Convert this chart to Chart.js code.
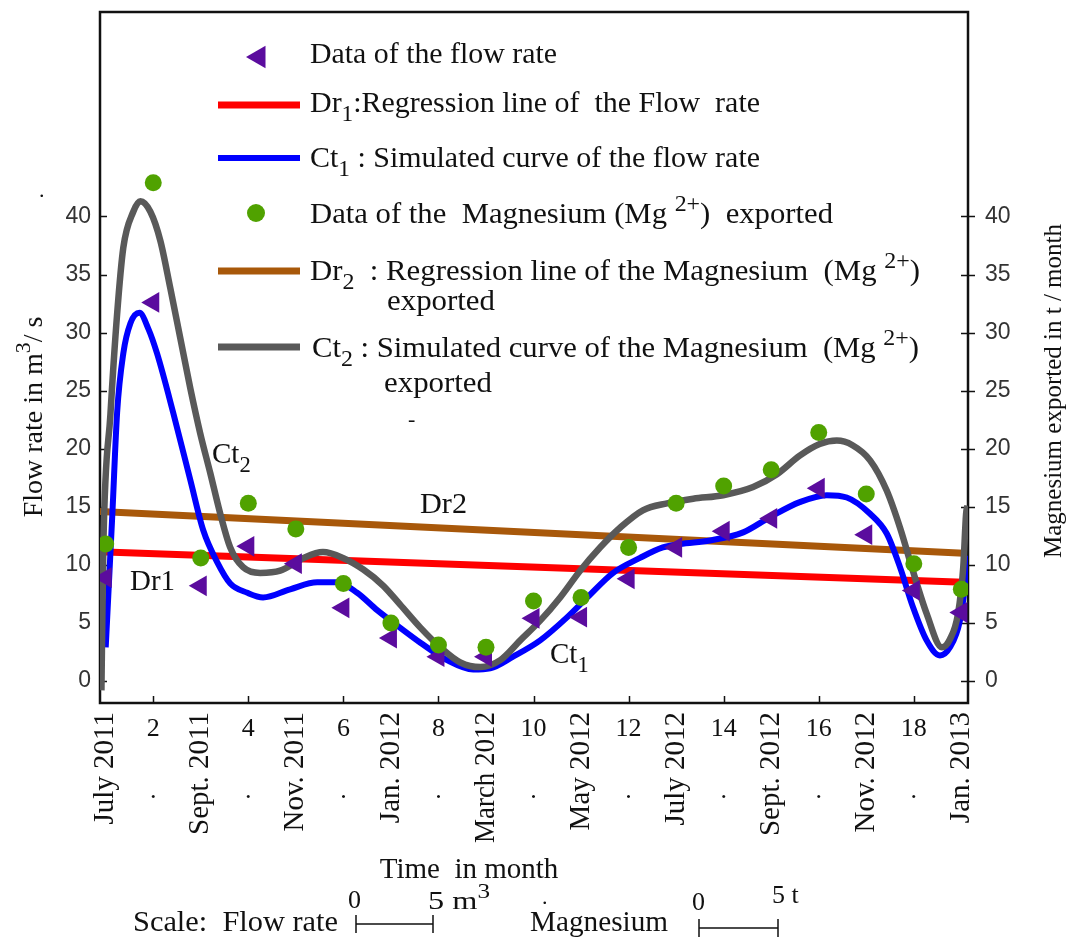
<!DOCTYPE html>
<html>
<head>
<meta charset="utf-8">
<script src="https://cdn.jsdelivr.net/npm/chart.js@4.4.1/dist/chart.umd.min.js"></script>
<style>
  html, body { margin: 0; padding: 0; background: #fff; }
  #wrap { width: 1066px; height: 937px; position: relative; }
</style>
</head>
<body>
<div id="wrap"><canvas id="chart" width="1066" height="937"></canvas></div>
<script>
// Months 1..19 (July 2011 .. Jan. 2013)
const months = [1, 2, 3, 4, 5, 6, 7, 8, 9, 10, 11, 12, 13, 14, 15, 16, 17, 18, 19];
const monthLabels = ['July 2011', '2', 'Sept. 2011', '4', 'Nov. 2011', '6', 'Jan. 2012', '8', 'March 2012', '10',
    'May 2012', '12', 'July 2012', '14', 'Sept. 2012', '16', 'Nov. 2012', '18', 'Jan. 2013'];
const yTicks = [0, 5, 10, 15, 20, 25, 30, 35, 40];

// Measured data
const flowRate = [8.9, 32.6, 8.2, 11.6, 10.1, 6.3, 3.7, 2.1, 2.1, 5.4, 5.5, 8.8, 11.5, 12.9, 14.0, 16.6, 12.6, 7.8, 5.9];
const magnesium = [11.8, 42.9, 10.6, 15.3, 13.1, 8.4, 5.0, 3.1, 2.9, 6.9, 7.2, 11.5, 15.3, 16.8, 18.2, 21.4, 16.1, 10.1, 7.9];

// Regression lines (end points)
const dr1Time = [1.0, 19.05];
const dr1Flow = [11.1, 8.5];
const dr2Time = [0.88, 19.05];
const dr2Mg = [14.6, 11.0];

// Simulated curve Ct1 (flow rate)
const ct1Time = [1.0, 1.14, 1.24, 1.37, 1.52, 1.71, 1.9, 2.08, 2.42, 2.78, 3.05, 3.35, 3.62, 3.98, 4.31, 4.88, 5.45, 5.87,
    6.29, 6.71, 7.19, 7.62, 8.18, 8.73, 9.09, 9.57, 10.14, 10.71, 11.13, 11.67, 12.24, 12.72, 13.08, 13.71, 14.41, 14.97,
    15.60, 16.17, 16.59, 17.08, 17.43, 17.71, 17.98, 18.27, 18.55, 18.76, 18.97, 19.07, 19.12];
const ct1Flow = [2.9, 14.4, 23.1, 28.2, 30.8, 31.7, 30.3, 28.2, 23.1, 17.3, 13.0, 10.2, 8.4, 7.6, 7.2, 7.9, 8.5, 8.5,
    7.6, 6.1, 4.6, 3.3, 1.8, 1.0, 1.1, 2.1, 3.5, 5.5, 7.2, 9.3, 10.6, 11.5, 11.8, 12.1, 12.8, 14.1,
    15.4, 16.0, 15.8, 14.4, 12.7, 9.8, 6.4, 3.5, 2.2, 2.9, 5.2, 8.1, 10.8];

// Simulated curve Ct2 (magnesium)
const ct2Time = [0.91, 0.95, 1.10, 1.24, 1.37, 1.58, 1.73, 1.94, 2.15, 2.36, 2.57, 2.78, 2.99, 3.20, 3.41, 3.62, 3.89,
    4.25, 4.67, 5.16, 5.57, 5.99, 6.42, 6.84, 7.19, 7.62, 8.04, 8.46, 8.88, 9.30, 9.72, 10.14, 10.56, 10.98, 11.40, 11.82,
    12.30, 12.81, 13.36, 13.99, 14.62, 15.12, 15.60, 16.02, 16.38, 16.71, 17.08, 17.43, 17.71, 17.98, 18.27, 18.59, 18.76,
    18.93, 19.04, 19.10, 19.13];
const ct2Mg = [-0.8, 11.5, 23.0, 31.6, 37.3, 40.4, 41.3, 40.4, 37.9, 33.8, 29.5, 25.2, 21.3, 17.9, 14.4, 11.5, 9.8,
    9.3, 9.5, 10.6, 11.1, 10.6, 9.6, 8.2, 6.6, 4.6, 2.9, 1.6, 1.2, 1.8, 3.5, 5.2, 7.2, 9.5, 11.5, 13.2,
    14.7, 15.3, 15.7, 16.0, 16.7, 17.8, 19.4, 20.4, 20.7, 20.3, 19.0, 16.4, 13.2, 9.5, 5.8, 2.9, 3.6,
    5.8, 9.8, 14.4, 15.1];

const PURPLE = '#5b0c9e', GREEN = '#50a200', RED = '#ff0000', BLUE = '#0000ff', BROWN = '#a8580a', GRAY = '#595959';
const SERIF = '"Liberation Serif", "Times New Roman", serif';
const SANS = '"Liberation Sans", Arial, sans-serif';

function pairs(xs, ys) {
    return xs.map((x, i) => ({x: x, y: ys[i]}));
}

function splitRich(text) {
    return text.split(/(_\{[^}]*\}|\^\{[^}]*\})/).filter(s => s.length);
}

function textWidth(ctx, text, size) {
    let w = 0;
    splitRich(text).forEach(p => {
        const small = p.startsWith('_{') || p.startsWith('^{');
        const t = small ? p.slice(2, -1) : p;
        ctx.font = (small ? size * 0.78 : size) + 'px ' + SERIF;
        w += ctx.measureText(t).width;
    });
    return w;
}

// Draw text with _{sub} and ^{sup} parts; optional width to stretch to
function richText(ctx, text, x, y, size, width) {
    ctx.save();
    ctx.translate(x, y);
    if (width) ctx.scale(width / textWidth(ctx, text, size), 1);
    ctx.textAlign = 'left';
    ctx.textBaseline = 'alphabetic';
    let cx = 0;
    splitRich(text).forEach(p => {
        let fs = size, dy = 0, t = p;
        if (p.startsWith('_{')) { t = p.slice(2, -1); fs = size * 0.78; dy = size * 0.32; }
        if (p.startsWith('^{')) { t = p.slice(2, -1); fs = size * 0.78; dy = -size * 0.42; }
        ctx.font = fs + 'px ' + SERIF;
        ctx.fillText(t, cx, dy);
        cx += ctx.measureText(t).width;
    });
    ctx.restore();
}

function leftTriangle(ctx, cx, cy, r) {
    ctx.beginPath();
    ctx.moveTo(cx - r, cy);
    ctx.lineTo(cx + r * 0.5, cy - r * 0.87);
    ctx.lineTo(cx + r * 0.5, cy + r * 0.87);
    ctx.closePath();
    ctx.fill();
}

const decorPlugin = {
    id: 'decor',
    beforeDatasetsDraw(chart) {
        const ctx = chart.ctx, a = chart.chartArea;
        const x = chart.scales.x, y = chart.scales.y;
        ctx.save();
        ctx.strokeStyle = '#111';
        ctx.lineWidth = 2.5;
        ctx.strokeRect(a.left, a.top, a.right - a.left, a.bottom - a.top);
        ctx.lineWidth = 1.5;
        ctx.beginPath();
        yTicks.forEach(v => {
            const py = Math.round(y.getPixelForValue(v)) + 0.5;
            ctx.moveTo(a.left, py); ctx.lineTo(a.left + 7, py);
            ctx.moveTo(a.right - 7, py); ctx.lineTo(a.right + 7, py);
        });
        months.forEach(m => {
            if (m % 2 === 0) {
                const px = Math.round(x.getPixelForValue(m)) + 0.5;
                ctx.moveTo(px, a.bottom); ctx.lineTo(px, a.bottom - 7);
            }
        });
        ctx.stroke();
        ctx.restore();
    },
    afterDraw(chart) {
        const ctx = chart.ctx, a = chart.chartArea;
        const x = chart.scales.x;
        ctx.save();
        ctx.fillStyle = '#111';

        // x tick labels: month names rotated, month numbers flat
        months.forEach((m, i) => {
            const px = x.getPixelForValue(m);
            if (m % 2 === 1) {
                ctx.save();
                ctx.translate(px, a.bottom + 9);
                ctx.rotate(-Math.PI / 2);
                ctx.font = '29px ' + SERIF;
                ctx.textAlign = 'right';
                ctx.textBaseline = 'middle';
                ctx.fillText(monthLabels[i], 0, 0, 131);
                ctx.restore();
            } else {
                ctx.font = '26px ' + SERIF;
                ctx.textAlign = 'center';
                ctx.textBaseline = 'middle';
                ctx.fillText(monthLabels[i], px, a.bottom + 26);
                ctx.fillText('.', px, a.bottom + 88);
            }
        });

        // axis titles
        ctx.font = '29px ' + SERIF;
        ctx.textAlign = 'center';
        ctx.textBaseline = 'alphabetic';
        ctx.fillText('Time  in month', 469, 878);

        ctx.save();
        ctx.translate(42, 417);
        ctx.rotate(-Math.PI / 2);
        const t1 = 'Flow rate in m^{3}/ s';
        richText(ctx, t1, -textWidth(ctx, t1, 28) / 2, 0, 28);
        ctx.restore();

        ctx.save();
        ctx.translate(1061, 391);
        ctx.rotate(-Math.PI / 2);
        ctx.font = '25px ' + SERIF;
        ctx.textAlign = 'center';
        ctx.fillText('Magnesium exported in t / month', 0, 0);
        ctx.restore();

        // legend
        const LS = 29;
        ctx.fillStyle = PURPLE;
        leftTriangle(ctx, 259, 57, 13);
        ctx.fillStyle = GREEN;
        ctx.beginPath(); ctx.arc(256, 213, 9, 0, Math.PI * 2); ctx.fill();
        ctx.lineCap = 'butt';
        [[RED, 105, 7], [BLUE, 158, 6], [BROWN, 271, 7], [GRAY, 347, 7]].forEach(l => {
            ctx.strokeStyle = l[0]; ctx.lineWidth = l[2];
            ctx.beginPath(); ctx.moveTo(218, l[1]); ctx.lineTo(300, l[1]); ctx.stroke();
        });
        ctx.fillStyle = '#111';
        richText(ctx, 'Data of the flow rate', 310, 63, LS, 247);
        richText(ctx, 'Dr_{1}:Regression line of  the Flow  rate', 310, 112, LS, 450);
        richText(ctx, 'Ct_{1} : Simulated curve of the flow rate', 310, 167, LS, 450);
        richText(ctx, 'Data of the  Magnesium (Mg ^{2+})  exported', 310, 223, LS, 523);
        richText(ctx, 'Dr_{2}  : Regression line of the Magnesium  (Mg ^{2+})', 310, 280, LS, 610);
        richText(ctx, 'exported', 387, 310, LS, 108);
        richText(ctx, 'Ct_{2} : Simulated curve of the Magnesium  (Mg ^{2+})', 312, 357, LS, 607);
        richText(ctx, 'exported', 384, 392, LS, 108);

        // in-plot annotations
        richText(ctx, 'Ct_{2}', 212, 463, LS);
        richText(ctx, 'Dr2', 420, 513, LS, 47);
        richText(ctx, 'Dr1', 130, 590, LS, 45);
        richText(ctx, 'Ct_{1}', 550, 663, LS);
        richText(ctx, '-', 408, 426, 22);
        richText(ctx, '.', 39, 197, 22);

        // scale bars
        richText(ctx, 'Scale:  Flow rate', 133, 931, LS, 205);
        richText(ctx, '0', 348, 908, 26);
        richText(ctx, '5 m^{3}', 428, 909, 26, 62);
        richText(ctx, '.', 542, 904, 22);
        richText(ctx, 'Magnesium', 530, 931, LS, 138);
        richText(ctx, '0', 692, 910, 26);
        richText(ctx, '5 t', 772, 903, 26);
        ctx.strokeStyle = '#111';
        ctx.lineWidth = 1.5;
        [[356, 433, 924], [699, 778, 928]].forEach(b => {
            ctx.beginPath();
            ctx.moveTo(b[0], b[2]); ctx.lineTo(b[1], b[2]);
            ctx.moveTo(b[0], b[2] - 9); ctx.lineTo(b[0], b[2] + 9);
            ctx.moveTo(b[1], b[2] - 9); ctx.lineTo(b[1], b[2] + 9);
            ctx.stroke();
        });
        ctx.restore();
    }
};

function fixWidth(w) {
    return s => { s.width = w; s.paddingTop = 0; s.paddingBottom = 0; };
}

const yScaleBase = {
    type: 'linear',
    min: -1.89,
    max: 57.6,
    afterBuildTicks: s => { s.ticks = yTicks.map(v => ({value: v})); },
    grid: {display: false, drawTicks: false},
    border: {display: false},
    ticks: {font: {family: SANS, size: 23}, color: '#333'}
};

new Chart(document.getElementById('chart').getContext('2d'), {
    type: 'line',
    data: {
        datasets: [
            {label: 'Data of the Magnesium exported', data: pairs(months, magnesium), showLine: false,
                pointStyle: 'circle', pointRadius: 8.5, backgroundColor: GREEN, borderColor: GREEN, borderWidth: 0, order: 0},
            {label: 'Data of the flow rate', data: pairs(months, flowRate), showLine: false,
                pointStyle: 'triangle', rotation: -90, pointRadius: 12, backgroundColor: PURPLE, borderColor: PURPLE, borderWidth: 0, order: 1},
            {label: 'Ct2', data: pairs(ct2Time, ct2Mg), borderColor: GRAY, borderWidth: 6.5, pointRadius: 0,
                cubicInterpolationMode: 'monotone', order: 2},
            {label: 'Ct1', data: pairs(ct1Time, ct1Flow), borderColor: BLUE, borderWidth: 6, pointRadius: 0,
                cubicInterpolationMode: 'monotone', order: 3},
            {label: 'Dr2', data: pairs(dr2Time, dr2Mg), borderColor: BROWN, borderWidth: 7, pointRadius: 0, order: 4},
            {label: 'Dr1', data: pairs(dr1Time, dr1Flow), borderColor: RED, borderWidth: 7, pointRadius: 0, order: 5}
        ]
    },
    options: {
        responsive: false,
        animation: false,
        layout: {padding: {top: 10, left: 0, right: 0, bottom: 0}},
        plugins: {legend: {display: false}, tooltip: {enabled: false}},
        scales: {
            x: {
                type: 'linear', min: 0.88, max: 19.14,
                grid: {display: false, drawTicks: false},
                border: {display: false},
                ticks: {display: false},
                afterFit: s => { s.height = 234; s.paddingLeft = 0; s.paddingRight = 0; }
            },
            y: Object.assign({}, yScaleBase, {position: 'left',
                ticks: Object.assign({}, yScaleBase.ticks, {padding: 9}),
                afterFit: fixWidth(100)}),
            y2: Object.assign({}, yScaleBase, {position: 'right',
                ticks: Object.assign({}, yScaleBase.ticks, {padding: 17}),
                afterFit: fixWidth(98)})
        }
    },
    plugins: [decorPlugin]
});
</script>
</body>
</html>
